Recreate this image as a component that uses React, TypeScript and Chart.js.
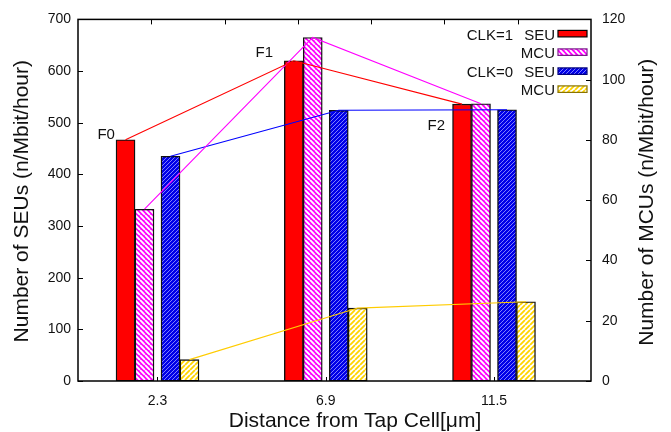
import React, { useEffect, useRef } from 'react';
import { Chart, registerables } from 'chart.js';

Chart.register(...registerables);

// ---- data ----
const categories = ['2.3', '6.9', '11.5'];
const seuClk1 = [467, 620, 536];
const mcuClk1 = [57, 114, 92];
const seuClk0 = [435, 524, 525];
const mcuClk0 = [7.1, 24.2, 26.3];
const seuTicks = [0, 100, 200, 300, 400, 500, 600, 700];
const mcuTicks = [0, 20, 40, 60, 80, 100, 120];
const pointLabels = ['F0', 'F1', 'F2'];
const pointLabelX = [-0.253, 0.687, 1.709];
const pointLabelY = [476, 635, 493];
const legendNames = ['SEU', 'MCU', 'SEU', 'MCU'];
const legendGroups = ['CLK=1', '', 'CLK=0', ''];

// ---- layout constants ----
const W = 671;
const H = 432;
const SERIES_OFFSET = [-0.19, -0.0773, 0.0773, 0.19];
const BAR_W = 19;
const FONT = "'Liberation Sans', Arial, Helvetica, sans-serif";

function makeHatch(
  ctx: CanvasRenderingContext2D,
  bg: string | null,
  fg: string,
  size: number,
  lw: number,
  dir: 'fwd' | 'back'
) {
  const c = document.createElement('canvas');
  c.width = size;
  c.height = size;
  const g = c.getContext('2d')!;
  if (bg) {
    g.fillStyle = bg;
    g.fillRect(0, 0, size, size);
  }
  g.strokeStyle = fg;
  g.lineWidth = lw;
  g.beginPath();
  for (let k = -1; k <= 1; k++) {
    if (dir === 'fwd') {
      g.moveTo(k * size, size);
      g.lineTo(k * size + size, 0);
    } else {
      g.moveTo(k * size, 0);
      g.lineTo(k * size + size, size);
    }
  }
  g.stroke();
  return ctx.createPattern(c, 'repeat') as CanvasPattern;
}

const App = () => {
  const ref = useRef<HTMLCanvasElement>(null);

  useEffect(() => {
    document.body.style.margin = '0';
    const canvas = ref.current!;
    const ctx = canvas.getContext('2d')!;

    const magentaPat = makeHatch(ctx, '#ff00ff', '#ffffff', 5, 1.9, 'back');
    const bluePat = makeHatch(ctx, '#0000e8', '#8c8cff', 4, 0.9, 'fwd');
    const yellowPat = makeHatch(ctx, '#ffffff', '#ffd400', 5, 1.8, 'fwd');

    const series = [
      { name: 'CLK=1 SEU', values: seuClk1, axis: 'y', fill: '#ff0000' as any, line: '#ff0000', legBorder: '#000000' },
      { name: 'CLK=1 MCU', values: mcuClk1, axis: 'y1', fill: magentaPat as any, line: '#ff00ff', legBorder: '#7a1a8a' },
      { name: 'CLK=0 SEU', values: seuClk0, axis: 'y', fill: bluePat as any, line: '#0000ff', legBorder: '#00007a' },
      { name: 'CLK=0 MCU', values: mcuClk0, axis: 'y1', fill: yellowPat as any, line: '#ffcc00', legBorder: '#8a7400' },
    ];

    const barSets = series.map((s, si) => ({
      type: 'bar' as const,
      label: s.name,
      data: s.values.map((v, i) => ({ x: i + SERIES_OFFSET[si], y: v })),
      yAxisID: s.axis,
      backgroundColor: s.fill,
      borderColor: '#111111',
      borderWidth: 1.4,
      borderSkipped: false,
      grouped: false,
      barThickness: BAR_W,
      order: 2,
    }));

    const lineSets = series.map((s, si) => ({
      type: 'line' as const,
      label: s.name + ' line',
      data: s.values.map((v, i) => ({ x: i + SERIES_OFFSET[si], y: v })),
      yAxisID: s.axis,
      borderColor: s.line,
      borderWidth: 1.1,
      pointRadius: 0,
      fill: false,
      tension: 0,
      order: 1,
    }));

    const decor = {
      id: 'decor',
      afterDraw(chart: any) {
        const c = chart.ctx as CanvasRenderingContext2D;
        const a = chart.chartArea;
        const xs = chart.scales.x;
        const ys = chart.scales.y;
        const y1 = chart.scales.y1;
        c.save();
        // frame
        c.strokeStyle = '#000';
        c.lineWidth = 1.5;
        c.strokeRect(a.left, a.top, a.right - a.left, a.bottom - a.top);
        c.lineWidth = 1;
        c.beginPath();
        seuTicks.forEach((v) => {
          const y = Math.round(ys.getPixelForValue(v)) + 0.5;
          c.moveTo(a.left, y);
          c.lineTo(a.left + 5, y);
        });
        mcuTicks.forEach((v) => {
          const y = Math.round(y1.getPixelForValue(v)) + 0.5;
          c.moveTo(a.right - 5, y);
          c.lineTo(a.right, y);
        });
        categories.forEach((_, i) => {
          const x = Math.round(xs.getPixelForValue(i)) + 0.5;
          c.moveTo(x, a.bottom);
          c.lineTo(x, a.bottom - 4);
        });
        for (let k = 1; k < 7; k++) {
          const x = Math.round(a.left + ((a.right - a.left) * k) / 7) + 0.5;
          c.moveTo(x, a.top);
          c.lineTo(x, a.top + 5);
        }
        c.stroke();

        // point labels
        c.fillStyle = '#111';
        c.font = `15px ${FONT}`;
        c.textAlign = 'right';
        c.textBaseline = 'middle';
        pointLabels.forEach((t, i) => {
          c.fillText(t, xs.getPixelForValue(pointLabelX[i]), ys.getPixelForValue(pointLabelY[i]));
        });

        // legend
        const rowY = [32, 50.5, 69.5, 87.5];
        const textRight = a.right - 36;
        const groupRight = a.right - 78;
        series.forEach((s, i) => {
          const y = a.top + rowY[i] - 16;
          c.fillStyle = '#111';
          c.textAlign = 'right';
          c.fillText(legendNames[i], textRight, y);
          if (legendGroups[i]) c.fillText(legendGroups[i], groupRight, y);
          c.fillStyle = s.fill;
          const sx = a.right - 33;
          const sy = y - 5;
          c.fillRect(sx, sy, 29, 6.5);
          c.strokeStyle = s.legBorder;
          c.lineWidth = 1.2;
          c.strokeRect(sx, sy, 29, 6.5);
        });

        // axis titles
        c.fillStyle = '#111';
        c.font = `21px ${FONT}`;
        c.textAlign = 'center';
        c.textBaseline = 'middle';
        const midY = (a.top + a.bottom) / 2;
        c.save();
        c.translate(22, midY + 1);
        c.rotate(-Math.PI / 2);
        c.fillText('Number of SEUs (n/Mbit/hour)', 0, 0);
        c.restore();
        c.save();
        c.translate(647, midY + 2);
        c.rotate(-Math.PI / 2);
        c.fillText('Number of MCUs (n/Mbit/hour)', 0, 0);
        c.restore();
        c.fillText('Distance from Tap Cell[\u03bcm]', 355, 421);
        c.restore();
      },
    };

    const chart = new Chart(ctx, {
      type: 'bar',
      data: { datasets: [...lineSets, ...barSets] as any },
      options: {
        responsive: false,
        animation: false,
        events: [],
        layout: { padding: { top: 16, left: 0, right: 0, bottom: 0 } },
        plugins: { legend: { display: false }, tooltip: { enabled: false } },
        scales: {
          x: {
            type: 'linear',
            offset: false,
            min: -0.4725,
            max: 2.5765,
            grid: { display: false, drawTicks: false, offset: false },
            border: { display: false },
            afterBuildTicks: (s: any) => {
              s.ticks = categories.map((_, i) => ({ value: i }));
            },
            afterFit: (s: any) => {
              s.height = H - 381;
            },
            ticks: {
              autoSkip: false,
              maxRotation: 0,
              padding: 12,
              color: '#111',
              font: { family: FONT, size: 14 },
              callback: (v: any) => categories[Math.round(Number(v))] ?? '',
            },
          },
          y: {
            type: 'linear',
            position: 'left',
            min: 0,
            max: 700,
            grid: { display: false, drawTicks: false },
            border: { display: false },
            afterBuildTicks: (s: any) => {
              s.ticks = seuTicks.map((v) => ({ value: v }));
            },
            afterFit: (s: any) => {
              s.width = 78;
            },
            ticks: {
              padding: 7,
              color: '#111',
              font: { family: FONT, size: 14 },
            },
          },
          y1: {
            type: 'linear',
            position: 'right',
            min: 0,
            max: 120,
            grid: { display: false, drawTicks: false },
            border: { display: false },
            afterBuildTicks: (s: any) => {
              s.ticks = mcuTicks.map((v) => ({ value: v }));
            },
            afterFit: (s: any) => {
              s.width = W - 591;
            },
            ticks: {
              padding: 11,
              color: '#111',
              font: { family: FONT, size: 14 },
            },
          },
        },
      } as any,
      plugins: [decor],
    });
    return () => chart.destroy();
  }, []);

  return (
    <div style={{ width: W, height: H }}>
      <canvas ref={ref} width={W} height={H} style={{ display: 'block' }} />
    </div>
  );
};

export default App;
